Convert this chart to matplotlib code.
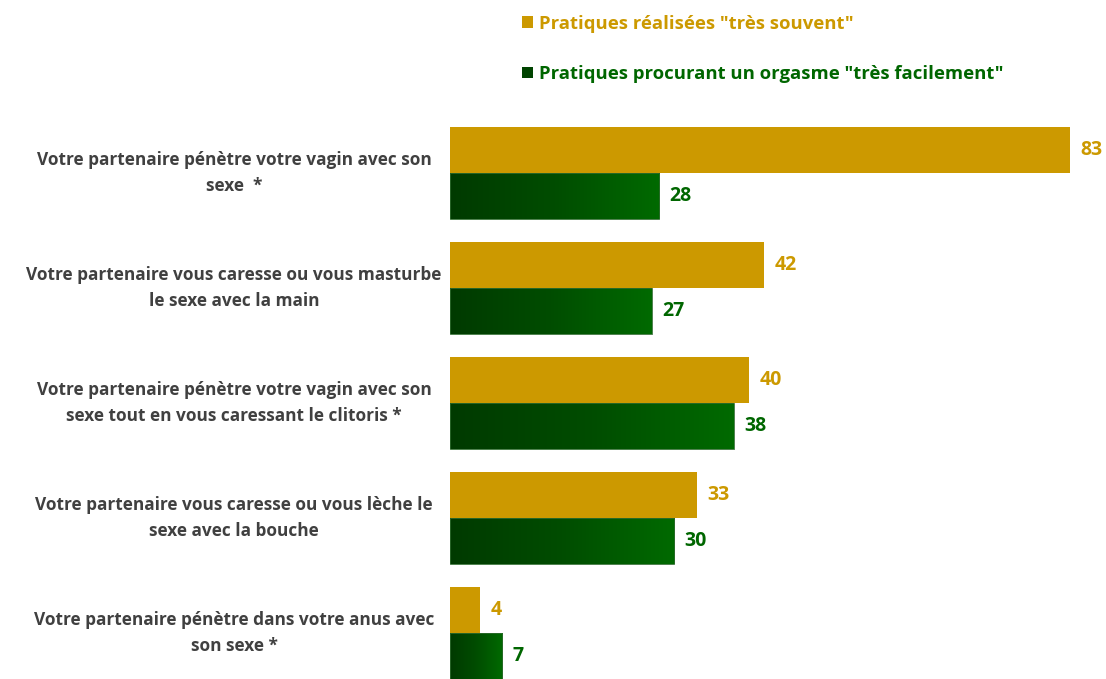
import matplotlib
matplotlib.use("Agg")
import matplotlib.pyplot as plt
import numpy as np
from matplotlib.patches import Patch
from matplotlib.colors import LinearSegmentedColormap

categories = [
    "Votre partenaire pénètre votre vagin avec son\nsexe  *",
    "Votre partenaire vous caresse ou vous masturbe\nle sexe avec la main",
    "Votre partenaire pénètre votre vagin avec son\nsexe tout en vous caressant le clitoris *",
    "Votre partenaire vous caresse ou vous lèche le\nsexe avec la bouche",
    "Votre partenaire pénètre dans votre anus avec\nson sexe *",
]
series_names = ['Pratiques réalisées "très souvent"',
                'Pratiques procurant un orgasme "très facilement"']
souvent = [83, 42, 40, 33, 4]
orgasme = [28, 27, 38, 30, 7]

GOLD = "#CC9900"
GREEN_TXT = "#006600"
green_cmap = LinearSegmentedColormap.from_list("g", ["#003A00", "#004D00", "#006A00"])

plt.rcParams['font.family'] = ['Open Sans', 'DejaVu Sans']

W, H = 1106, 679
fig = plt.figure(figsize=(W / 100, H / 100), dpi=100)
left_px, right_px, top_px, bottom_px = 450, 1090, 100, 679
ax = fig.add_axes([left_px / W, 1 - bottom_px / H, (right_px - left_px) / W, (bottom_px - top_px) / H])

y = np.arange(len(categories))
h = 0.4
ax.barh(y - h / 2, souvent, height=h, color=GOLD, edgecolor="none")
gbars = ax.barh(y + h / 2, orgasme, height=h, color="none", edgecolor="#2E6B2E", linewidth=0.6, zorder=3)

xmax = 640 / 7.47
ax.set_xlim(0, xmax)
ax.set_ylim(4.4, -0.635)

grad = np.linspace(0, 1, 256).reshape(1, -1)
for bar in gbars:
    x0, y0 = bar.get_x(), bar.get_y()
    w, hh = bar.get_width(), bar.get_height()
    im = ax.imshow(grad, cmap=green_cmap, aspect="auto",
                   extent=[x0, x0 + w, y0 + hh, y0], zorder=2, interpolation="bilinear")
    im.set_clip_path(bar)
ax.set_xlim(0, xmax)
ax.set_ylim(4.4, -0.635)

for i, (a, b) in enumerate(zip(souvent, orgasme)):
    ax.text(a + 1.4, i - h / 2, str(a), ha="left", va="center", fontsize=14,
            fontweight="bold", color=GOLD)
    ax.text(b + 1.4, i + h / 2, str(b), ha="left", va="center", fontsize=14,
            fontweight="bold", color=GREEN_TXT)

ax.set_yticks([])
ax.set_xticks([])
for s in ax.spines.values():
    s.set_visible(False)

for i, cat in enumerate(categories):
    yd = ax.transData.transform((0, i))[1]
    fig.text(234 / W, yd / H, cat, ha="center", va="center", fontsize=12.4,
             fontweight="bold", color="#404040", linespacing=1.55)

handles = [Patch(facecolor=GOLD, edgecolor="none"),
           Patch(facecolor="#004400", edgecolor="none")]
leg = fig.legend(handles, series_names, loc="upper left",
                 bbox_to_anchor=(505 / W, 1 + 2 / H), frameon=False,
                 prop={"weight": "bold", "size": 13.3},
                 handlelength=0.6, handleheight=0.6, handletextpad=0.35,
                 labelspacing=1.75, labelcolor=[GOLD, GREEN_TXT])

fig.savefig("out.png", dpi=100)
